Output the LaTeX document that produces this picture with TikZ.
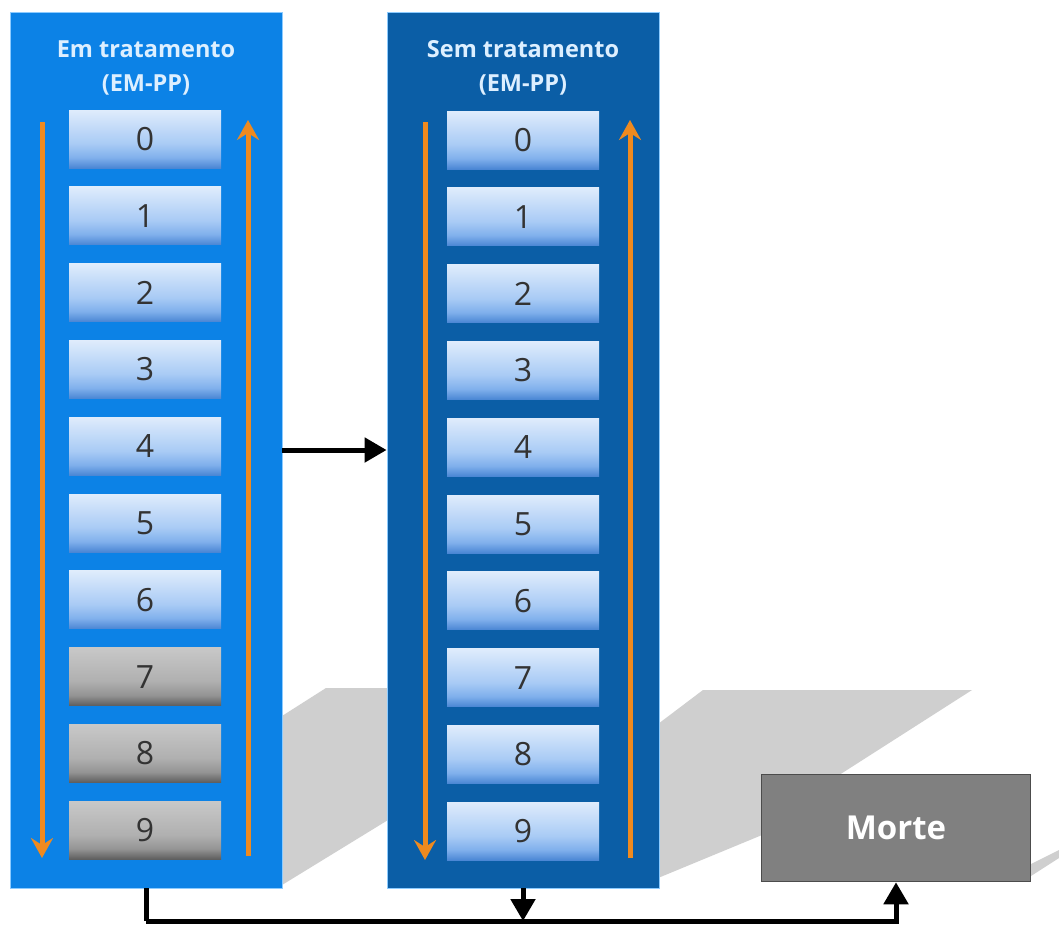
\documentclass[tikz,border=0pt]{standalone}
\usepackage{fontspec}
\setmainfont{Open Sans}
\usetikzlibrary{arrows.meta}

\definecolor{emBlue}{HTML}{0C82E6}
\definecolor{semBlue}{HTML}{0B5EA6}
\definecolor{edgeBlue}{HTML}{8CCBFF}
\definecolor{stageTop}{HTML}{DFECFC}
\definecolor{stageLow}{HTML}{A9CBF5}
\definecolor{stageMid}{HTML}{80B0EC}
\definecolor{stageBot}{HTML}{4A86D4}
\definecolor{greyTop}{HTML}{C8C8C8}
\definecolor{greyLow}{HTML}{B0B0B0}
\definecolor{greyMid}{HTML}{949494}
\definecolor{greyBot}{HTML}{5E5E5E}
\definecolor{shadowGrey}{HTML}{CFCFCF}
\definecolor{flowOrange}{HTML}{EF8A1F}
\definecolor{titleText}{HTML}{DDEFFF}
\definecolor{morteGrey}{HTML}{808080}

\pgfdeclareverticalshading{stageshade}{100bp}{color(0bp)=(stageBot); color(25bp)=(stageBot);
  color(34bp)=(stageMid); color(46bp)=(stageLow); color(75bp)=(stageTop); color(100bp)=(stageTop)}
\pgfdeclareverticalshading{greyshade}{100bp}{color(0bp)=(greyBot); color(25bp)=(greyBot);
  color(34bp)=(greyMid); color(46bp)=(greyLow); color(75bp)=(greyTop); color(100bp)=(greyTop)}

\tikzset{
  panel/.style={minimum width=272pt, minimum height=876pt, draw=edgeBlue, line width=0.8pt},
  paneltitle/.style={align=center, text=titleText, font=\fontsize{23.5}{34}\selectfont\bfseries},
  stage/.style={minimum width=152pt, minimum height=58pt, inner sep=0pt, shading=stageshade,
    text=black!80, font=\fontsize{32}{32}\selectfont},
  stagegrey/.style={stage, shading=greyshade},
  flow/.style={draw=flowOrange, line width=5pt, -{Stealth[length=20pt, width=22pt, inset=7pt]}},
  link/.style={draw=black, line width=5pt},
  linkarrow/.style={link, -{Triangle[length=22pt, width=24pt]}}
}

\begin{document}
\begin{tikzpicture}[x=1pt, y=-1pt]
  \useasboundingbox[fill=white] (0,0) rectangle (1059,927);

  % Shadows on the floor
  \fill[shadowGrey] (282,885) -- (282,716) -- (326,688) -- (388,688) -- (388,820) -- cycle;
  \fill[shadowGrey] (658,878) -- (658,724) -- (703,690) -- (972,690) -- (800,800) -- (762,835) -- cycle;
  \fill[shadowGrey] (1031,864) -- (1059,850) -- (1059,858) -- (1031,876) -- cycle;

  % Panels
  \node[panel, fill=emBlue] (emPanel) at (146,450) {};
  \node[panel, fill=semBlue] (semPanel) at (523,450) {};

  \node[paneltitle] (emTitle) at (146,68) {Em tratamento\\(EM-PP)};
  \node[paneltitle] (semTitle) at (523,68) {Sem tratamento\\(EM-PP)};

  % Stages 0-9
  \foreach \i in {0,...,9} {
    \ifnum\i<7
      \node[stage] (em\i) at (145,{139+76.8*\i}) {\i};
    \else
      \node[stagegrey] (em\i) at (145,{139+76.8*\i}) {\i};
    \fi
    \node[stage] (sem\i) at (523,{140+76.8*\i}) {\i};
  }

  % Orange flow arrows
  \draw[flow] (42,122) -- (42,858);
  \draw[flow] (248,856) -- (248,120);
  \draw[flow] (425,122) -- (425,860);
  \draw[flow] (630,858) -- (630,120);

  % Death state
  \node[minimum width=269pt, minimum height=107pt, fill=morteGrey, draw=black!70, line width=1.5pt,
        text=white, font=\fontsize{33}{33}\selectfont\bfseries] (morte) at (896,828) {Morte};

  % Connectors
  \draw[linkarrow] (emPanel.east) -- (semPanel.west);
  \coordinate (bus) at (146,921);
  \draw[link] (emPanel.south) -- (bus);
  \draw[linkarrow] (bus) -| (morte.south);
  \draw[linkarrow] (semPanel.south) -- (semPanel.south |- bus);
\end{tikzpicture}
\end{document}
